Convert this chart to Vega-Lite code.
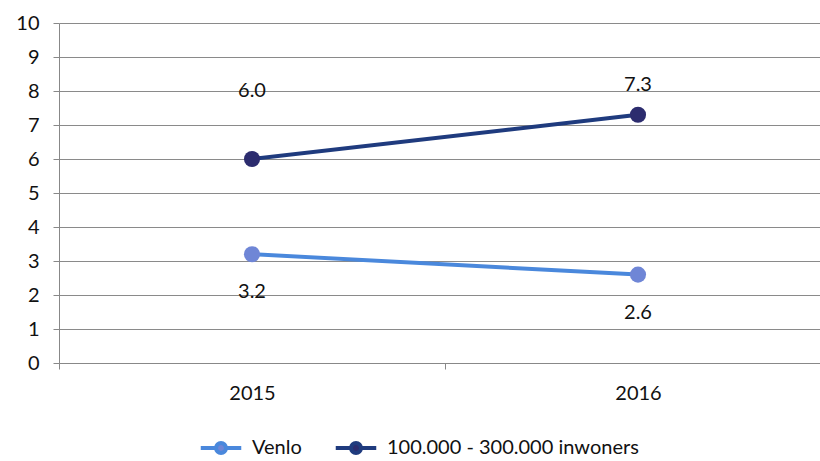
{
  "$schema": "https://vega.github.io/schema/vega-lite/v6.json",
  "width": 772,
  "height": 340,
  "autosize": {"type": "none"},
  "padding": {"left": 59, "top": 23, "right": 0, "bottom": 98},
  "background": "white",
  "config": {
    "font": "Lato",
    "view": {"stroke": null}
  },
  "data": {
    "values": [
      {"year": "2015", "series": "Venlo", "value": 3.2, "label": "3.2", "pos": "below"},
      {"year": "2016", "series": "Venlo", "value": 2.6, "label": "2.6", "pos": "below"},
      {"year": "2015", "series": "100.000 - 300.000 inwoners", "value": 6.0, "label": "6.0", "pos": "high"},
      {"year": "2016", "series": "100.000 - 300.000 inwoners", "value": 7.3, "label": "7.3", "pos": "above"}
    ]
  },
  "encoding": {
    "x": {
      "field": "year", "type": "nominal", "title": null,
      "scale": {"type": "band", "paddingInner": 0, "paddingOuter": 0},
      "axis": {"labelAngle": 0, "labelFont": "Lato", "labelFontSize": 20, "labelColor": "#111", "domainColor": "#888", "tickColor": "#888", "tickBand": "extent", "tickSize": 6, "labelPadding": 14, "grid": false}
    },
    "y": {
      "field": "value", "type": "quantitative", "title": null,
      "scale": {"domain": [0, 10]},
      "axis": {"values": [0,1,2,3,4,5,6,7,8,9,10], "labelFont": "Lato", "labelFontSize": 20, "labelColor": "#111", "domainColor": "#888", "tickColor": "#888", "gridColor": "#8a8a8a", "gridOpacity": 1, "tickSize": 6, "labelPadding": 14}
    }
  },
  "layer": [
    {
      "mark": {"type": "line", "strokeWidth": 4},
      "encoding": {
        "color": {
          "field": "series", "type": "nominal",
          "scale": {"domain": ["Venlo", "100.000 - 300.000 inwoners"], "range": ["#4a88dc", "#1f3b7e"]},
          "legend": {
            "orient": "none", "legendX": 145, "legendY": 408, "direction": "horizontal", "title": null,
            "labelFontSize": 20, "labelFont": "Lato", "labelColor": "#111", "labelLimit": 400,
            "symbolType": "M-1.35,0L-0.33,0M0.33,0L1.35,0M0.33,0A0.33,0.33,0,1,1,-0.33,0A0.33,0.33,0,1,1,0.33,0Z",
            "symbolSize": 900, "symbolStrokeWidth": 4,
            "columnPadding": 25, "labelOffset": 14
          }
        }
      }
    },
    {
      "mark": {"type": "point", "filled": true, "size": 260, "opacity": 1},
      "encoding": {
        "fill": {
          "field": "series", "type": "nominal",
          "scale": {"domain": ["Venlo", "100.000 - 300.000 inwoners"], "range": ["#6f86d6", "#2c2c6e"]},
          "legend": null
        }
      }
    },
    {
      "transform": [{"filter": "datum.pos == 'below'"}],
      "mark": {"type": "text", "fontSize": 20, "font": "Lato", "color": "#111", "dy": 38},
      "encoding": {"text": {"field": "label"}}
    },
    {
      "transform": [{"filter": "datum.pos == 'above'"}],
      "mark": {"type": "text", "fontSize": 20, "font": "Lato", "color": "#111", "dy": -30},
      "encoding": {"text": {"field": "label"}}
    },
    {
      "transform": [{"filter": "datum.pos == 'high'"}],
      "mark": {"type": "text", "fontSize": 20, "font": "Lato", "color": "#111", "dy": -68},
      "encoding": {"text": {"field": "label"}}
    }
  ]
}
